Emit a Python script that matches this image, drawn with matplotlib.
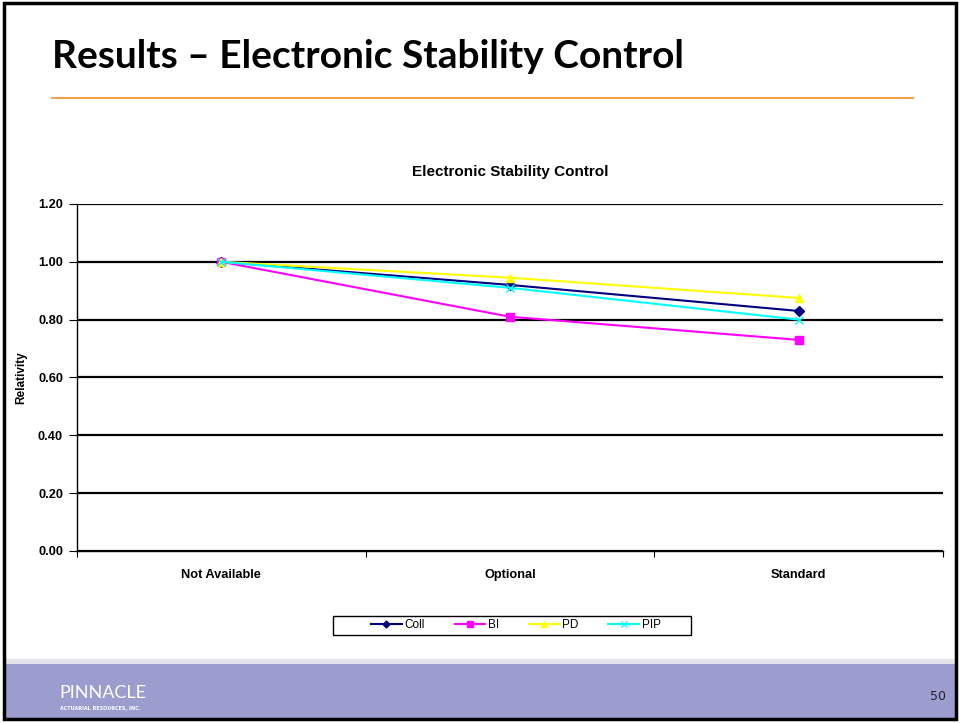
import matplotlib.pyplot as plt
from matplotlib.patches import Rectangle
from matplotlib.lines import Line2D

# Relativity by ESC availability
categories = ['Not Available', 'Optional', 'Standard']
coll = [1.00, 0.92, 0.83]
bi = [1.00, 0.81, 0.73]
pd_ = [1.00, 0.945, 0.875]
pip = [1.00, 0.91, 0.80]

fig = plt.figure(figsize=(9.6, 7.23), dpi=100)
fig.patch.set_facecolor('white')

# slide frame, footer band and title rule
fig.add_artist(Rectangle((0.004, 0.006), 0.992, 0.99, transform=fig.transFigure,
                         fill=False, edgecolor='black', linewidth=2.5, zorder=5))
fig.add_artist(Rectangle((0.004, 0.006), 0.992, 0.075, transform=fig.transFigure,
                         facecolor='#9b9dcf', edgecolor='none', zorder=1))
fig.add_artist(Rectangle((0.004, 0.081), 0.992, 0.007, transform=fig.transFigure,
                         facecolor='#e4e4ec', edgecolor='none', zorder=1))
fig.add_artist(Line2D([0.054, 0.951], [0.864, 0.864], transform=fig.transFigure,
                      color='#f5a04a', linewidth=1.5))

fig.text(0.054, 0.922, 'Results \u2013 Electronic Stability Control', fontsize=28,
         fontweight='bold', family='Lato', va='center', ha='left')
fig.text(0.062, 0.041, 'PINNACLE', fontsize=13, color='white', family='Lato',
         va='center', ha='left')
fig.text(0.062, 0.020, 'ACTUARIAL RESOURCES, INC.', fontsize=3.5, color='white',
         fontweight='bold', va='center', ha='left')
fig.text(0.985, 0.036, '50', fontsize=9, color='#222222', va='center', ha='right')

ax = fig.add_axes([0.0802, 0.2379, 0.902, 0.480])
x = range(len(categories))

ax.plot(x, coll, color='#000080', marker='D', markersize=5, linewidth=1.5, label='Coll')
ax.plot(x, bi, color='#ff00ff', marker='s', markersize=6, linewidth=1.5, label='BI')
ax.plot(x, pd_, color='#ffff00', marker='^', markersize=6, linewidth=1.5, label='PD')
ax.plot(x, pip, color='#00ffff', marker='x', markersize=6, linewidth=1.5, label='PIP')

ax.set_xlim(-0.5, 2.5)
ax.set_ylim(0, 1.2)
ax.set_yticks([0, 0.2, 0.4, 0.6, 0.8, 1.0, 1.2])
ax.set_yticklabels(['%.2f' % v for v in [0, 0.2, 0.4, 0.6, 0.8, 1.0, 1.2]])
ax.yaxis.grid(True, color='black', linewidth=1.6)
ax.set_axisbelow(True)

ax.set_xticks([-0.5, 0.5, 1.5, 2.5])
ax.set_xticklabels([])
ax.set_xticks(list(x), minor=True)
ax.set_xticklabels(categories, minor=True)
ax.tick_params(axis='x', which='minor', length=0, pad=13)
ax.tick_params(axis='x', which='major', length=4, direction='out')
ax.tick_params(axis='y', length=6, direction='out', pad=4)

for lbl in ax.get_xticklabels(minor=True) + ax.get_yticklabels():
    lbl.set_fontweight('bold')
    lbl.set_fontsize(9.2)
    lbl.set_family('Liberation Sans')

for s in ['top', 'right']:
    ax.spines[s].set_visible(False)
ax.spines['left'].set_linewidth(1)
ax.spines['bottom'].set_linewidth(1)

ax.set_ylabel('Relativity', fontsize=8.5, fontweight='bold', family='Liberation Sans',
              labelpad=8)
ax.set_title('Electronic Stability Control', fontsize=11, fontweight='bold',
             family='Liberation Sans', pad=20)

# legend box below the plot, entries inside it
ax.add_patch(Rectangle((0.2956, -0.242), 0.4134, 0.055, transform=ax.transAxes,
                       fill=False, edgecolor='black', linewidth=1, clip_on=False))
ax.legend(loc='center', bbox_to_anchor=(0.507, -0.2145), ncol=4, frameon=False,
          handlelength=2.6, handletextpad=0.25, columnspacing=2.5,
          borderpad=0.0, markerscale=0.7,
          prop={'family': 'Liberation Sans', 'size': 8.5})

fig.savefig('out.png', dpi=100)
